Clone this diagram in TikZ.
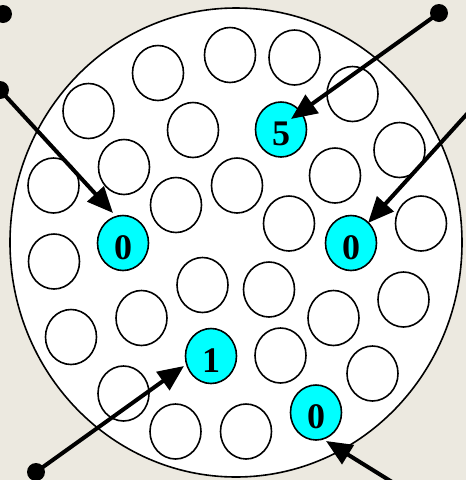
\documentclass[tikz,border=0pt]{standalone}
\usepackage{fontspec}
\setmainfont{Liberation Serif}
\usetikzlibrary{shapes.geometric,arrows.meta,calc}
\definecolor{bg}{RGB}{236,233,224}
\definecolor{cy}{RGB}{0,255,255}
\begin{document}
\begin{tikzpicture}[x=1pt,y=-1pt,
 ball/.style={ellipse,draw=black,line width=1.6pt,fill=white,minimum width=51pt,minimum height=55pt,inner sep=0pt},
 hot/.style={ball,fill=cy,font=\bfseries\fontsize{36}{36}\selectfont,text height=32pt,text depth=0pt},
 dot/.style={circle,fill=black,minimum size=18pt,inner sep=0pt},
 ptr/.style={line width=4pt,-{Triangle[length=26pt,width=22pt]}}]
\clip (0,0) rectangle (466,480);
\fill[bg] (0,0) rectangle (466,480);
\draw[line width=1.6pt,fill=white] (236,242.5) ellipse [x radius=226pt, y radius=234.5pt];
% plain balls
\node[ball] (b1) at (230,55) {};
\node[ball] (b2) at (294.5,57.5) {};
\node[ball] (b3) at (158,73) {};
\node[ball] (b4) at (88.5,111) {};
\node[ball] (b5) at (352.5,94) {};
\node[ball] (b6) at (193,130) {};
\node[ball] (b7) at (399.5,150) {};
\node[ball] (b8) at (124,167) {};
\node[ball] (b9) at (53.5,185.5) {};
\node[ball] (b10) at (237,185.5) {};
\node[ball] (b11) at (335,175.5) {};
\node[ball] (b12) at (176,205) {};
\node[ball] (b13) at (289,223.5) {};
\node[ball] (b14) at (421,223.5) {};
\node[ball] (b15) at (54,261.5) {};
\node[ball] (b16) at (202.5,285) {};
\node[ball] (b17) at (269,289.5) {};
\node[ball] (b18) at (403.5,299.5) {};
\node[ball] (b19) at (141.5,318) {};
\node[ball] (b20) at (71,337) {};
\node[ball] (b21) at (333.5,318) {};
\node[ball] (b22) at (280.5,355.5) {};
\node[ball] (b23) at (372.5,373.5) {};
\node[ball] (b24) at (123.5,393.5) {};
\node[ball] (b25) at (175.5,431.5) {};
\node[ball] (b26) at (246,431.5) {};
% highlighted balls
\node[hot] (h5) at (281,129.5) {5};
\node[hot] (h0a) at (123,243) {0};
\node[hot] (h0b) at (351,243) {0};
\node[hot] (h1) at (211,356) {1};
\node[hot] (h0c) at (316,412.5) {0};
% dots and arrow starts
\node[dot] (d0) at (3,14) {};
\node[dot] (d1) at (0,90) {};
\node[dot] (d2) at (439,13) {};
\coordinate (d3) at (476,104);
\node[dot] (d4) at (36,472) {};
\coordinate (d5) at (405,490);
% arrows
\draw[ptr] (d1.center) -- ($(h0a.center)+(-10,-30)$);
\draw[ptr] (d2.center) -- ($(h5.center)+(10,-10.5)$);
\draw[ptr] (d3) -- ($(h0b.center)+(17,-20)$);
\draw[ptr] (d4.center) -- ($(h1.center)+(-27,10)$);
\draw[ptr] (d5) -- ($(h0c.center)+(10,28.5)$);
\end{tikzpicture}
\end{document}
